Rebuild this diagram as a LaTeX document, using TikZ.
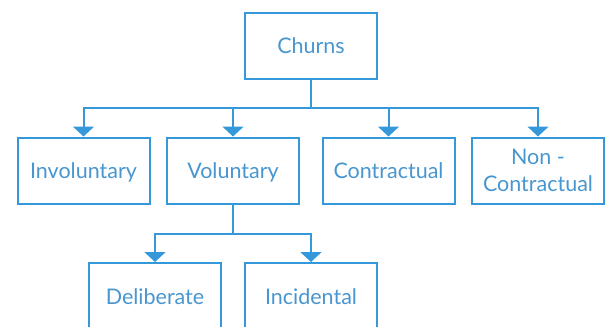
\documentclass[tikz,border=0pt]{standalone}
\usepackage{fontspec}
\setmainfont{Lato}
\usetikzlibrary{arrows.meta}
\definecolor{boxblue}{RGB}{52,152,219}
\definecolor{txtblue}{RGB}{72,150,208}
\begin{document}
\begin{tikzpicture}[x=1pt,y=-1pt,
  basebox/.style={draw=boxblue,line width=2pt,minimum width=132pt,minimum height=66pt,inner sep=2pt,
    text=txtblue,font=\fontsize{21.5}{27}\selectfont,align=center},
  box/.style={basebox,text height=15.5pt,text depth=0pt},
  conn/.style={draw=boxblue,line width=2pt},
  arr/.style={conn,-{Triangle[width=21pt,length=10pt]}}]
\useasboundingbox (0,0) rectangle (606,327);
\clip (0,0) rectangle (606,327);
\node[box] (churns) at (311,45.5) {Churns};
\node[box] (inv) at (83.5,170.5) {Involuntary};
\node[box] (vol) at (233,170.5) {Voluntary};
\node[box] (con) at (388.5,170.5) {Contractual};
\node[basebox] (non) at (538,170.5) {Non -\\Contractual};
\node[box,minimum height=67pt] (del) at (155,296.5) {Deliberate};
\node[box,minimum height=67pt] (inc) at (311,296.5) {Incidental};
\coordinate (j1) at (311,107.5);
\coordinate (j2) at (233,233.5);
\draw[conn] (churns.south) -- (j1);
\draw[arr] (j1) -| (inv.north);
\draw[arr] (j1) -| (vol.north);
\draw[arr] (j1) -| (con.north);
\draw[arr] (j1) -| (non.north);
\draw[conn] (vol.south) -- (j2);
\draw[arr] (j2) -| (del.north);
\draw[arr] (j2) -| (inc.north);
\end{tikzpicture}
\end{document}
